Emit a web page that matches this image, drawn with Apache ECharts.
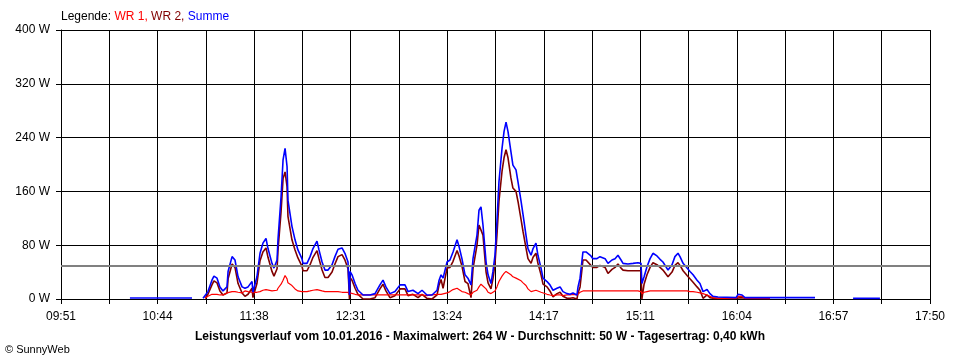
<!DOCTYPE html>
<html>
<head>
<meta charset="utf-8">
<script src="https://cdn.jsdelivr.net/npm/echarts@6/dist/echarts.min.js"></script>
<style>html,body{margin:0;padding:0;background:#fff}#c{width:960px;height:360px}</style>
</head>
<body>
<div id="c"></div>
<script>
// time axis: minutes since 09:51, total span 479 minutes in 18 grid steps
const xTickLabels = ['09:51','10:44','11:38','12:31','13:24','14:17','15:11','16:04','16:57','17:50'];
const spanMinutes = 479;
const gridSteps = 18;
const avgValue = 50;

const minutes = [38.0,72.2,72.8,78.3,79.4,81.0,83.2,84.3,86.0,87.6,89.3,91.5,92.1,94.3,95.9,97.6,99.8,101.4,103.1,105.3,105.8,108.0,109.7,111.3,113.0,114.1,116.3,117.4,119.1,119.6,121.3,122.4,123.5,124.6,125.1,127.3,129.0,130.6,132.8,133.4,135.6,137.3,138.9,141.1,142.2,143.9,145.5,147.2,149.4,151.0,152.7,154.9,156.5,158.2,159.0,159.3,160.4,162.1,163.7,166.5,170.3,173.1,175.8,177.5,179.1,181.3,184.1,186.9,189.6,191.3,194.0,196.8,199.0,201.7,204.5,207.3,208.4,209.5,210.6,212.8,214.4,216.1,218.3,219.4,221.0,222.7,224.3,226.0,227.1,229.3,230.4,231.5,232.6,234.3,235.4,237.0,238.1,239.2,240.3,241.4,243.1,244.2,245.3,246.4,248.0,249.1,250.8,251.9,253.6,254.7,256.3,257.4,259.1,260.2,261.8,262.9,264.6,265.7,267.9,269.5,271.2,273.4,275.1,276.7,278.9,280.6,282.2,284.4,285.0,286.1,287.2,287.7,289.4,290.5,292.1,293.2,295.4,297.1,298.2,299.9,301.5,303.7,305.4,307.0,308.7,309.8,312.5,315.3,318.0,319.7,320.2,321.4,323.0,324.7,326.3,328.5,330.2,331.8,334.6,336.8,338.4,340.1,341.2,342.9,345.1,346.7,348.4,350.6,352.2,353.9,356.1,357.7,359.4,362.1,372.1,373.2,375.4,377.0,390.8,391.9,415.6,416.2,436.6,451.4];

const summe = [1.5,1.5,null,1,2,11,28,34,31,18,12,18,41,63,58,33,18,16,18,26,10,33,68,83,90,75,53,46,58,88,152,207,224,197,147,108,88,73,60,53,53,63,75,86,73,55,43,43,51,63,74,76,68,55,6,41,36,23,13,6,6,8,21,28,18,8,11,21,21,11,13,8,13,6,6,13,28,36,31,55,58,70,88,78,60,36,31,21,60,95,132,137,110,55,36,23,41,65,115,174,224,249,263,249,219,199,192,174,145,125,95,75,65,75,83,65,46,31,26,21,13,16,18,11,8,7,9,6,18,31,58,70,70,68,64,60,60,63,65,60,53,58,60,65,58,53,52,53,54,53,23,33,48,60,68,64,59,55,43,51,63,68,63,53,46,41,36,28,23,11,14,8,4,3,2,7,6,2,2,2,2,null,1,1];

const wr1 = [null,null,null,null,1,4,7,7,7,6,6,9,11,11,11,10,9,12,11,10,8,10,11,13,14,13,12,12,13,16,22,28,35,30,24,20,15,12,11,11,11,12,13,14,13,12,11,11,11,11,11,10,10,10,6,9,8,7,6,6,6,6,6,6,6,6,6,6,6,6,6,6,6,5,6,7,7,7,7,9,11,14,16,14,11,10,8,6,10,13,18,22,20,15,10,8,7,12,18,26,34,38,41,39,36,33,31,29,27,24,20,15,11,13,13,12,10,8,7,6,5,6,6,5,6,6,7,6,7,10,12,12,12,12,12,12,12,12,12,12,12,12,12,12,12,12,12,12,12,11,8,10,11,12,12,12,12,12,12,12,12,12,12,12,12,11,11,10,9,8,6,4,2,1,1,4,4,1,1,null,null,null,null,null];

const wr2 = [null,null,null,null,1,7,21,27,24,12,6,9,30,52,47,23,9,4,7,16,2,23,57,70,76,62,41,34,45,72,130,179,189,167,123,88,73,61,49,42,42,51,62,72,60,43,32,32,40,52,63,66,58,45,0,32,28,16,7,0,0,2,15,22,12,2,5,15,15,5,7,2,7,1,0,6,21,29,16,46,47,56,72,64,49,26,23,2,45,80,110,112,95,40,24,15,30,52,95,145,190,210,222,210,180,165,160,145,118,100,76,60,53,62,68,53,36,22,18,12,3,8,10,4,1,1,2,0,9,18,45,58,58,56,50,47,47,50,52,47,38,44,47,52,46,43,42,42,42,42,0,22,36,47,54,51,47,43,33,40,50,54,50,42,35,30,25,18,13,1,6,2,1,1,1,3,2,1,0.5,null,null,null,null,null];

const toX = m => m / (spanMinutes / gridSteps);
const pts = arr => minutes.map((m, i) => [toX(m), arr[i]]);

const chart = echarts.init(document.getElementById('c'), null, {renderer: 'canvas'});
const font = 'Liberation Sans, Arial, sans-serif';
chart.setOption({
  animation: false,
  backgroundColor: '#ffffff',
  grid: {left: 61, right: 30, top: 30, bottom: 61},
  xAxis: {
    type: 'value', min: 0, max: gridSteps, interval: 1,
    axisLine: {show: true, onZero: false, lineStyle: {color: '#000', width: 1}},
    axisTick: {show: true, length: 5, lineStyle: {color: '#000'}},
    splitLine: {show: true, lineStyle: {color: '#000', width: 1}},
    axisLabel: {
      color: '#000', fontFamily: font, fontSize: 12, margin: 12,
      formatter: v => (Math.round(v) % 2 === 0 ? xTickLabels[Math.round(v) / 2] : '')
    }
  },
  yAxis: {
    type: 'value', min: 0, max: 400, interval: 80,
    axisLine: {show: true, lineStyle: {color: '#000', width: 1}},
    axisTick: {show: true, length: 5, lineStyle: {color: '#000'}},
    splitLine: {show: true, lineStyle: {color: '#000', width: 1}},
    axisLabel: {color: '#000', fontFamily: font, fontSize: 12, margin: 11, formatter: '{value} W'}
  },
  graphic: [
    {type: 'text', left: 61, top: 11, style: {
      text: '{k|Legende: }{a|WR 1, }{b|WR 2, }{c|Summe}',
      rich: {
        k: {fill: '#000', fontFamily: font, fontSize: 12},
        a: {fill: '#ff0000', fontFamily: font, fontSize: 12},
        b: {fill: '#800000', fontFamily: font, fontSize: 12},
        c: {fill: '#0000ff', fontFamily: font, fontSize: 12}
      }}},
    {type: 'text', left: 'center', top: 331, style: {
      text: 'Leistungsverlauf vom 10.01.2016 - Maximalwert: 264 W - Durchschnitt: 50 W - Tagesertrag: 0,40 kWh',
      fill: '#000', fontFamily: font, fontSize: 12, fontWeight: 'bold'}},
    {type: 'text', left: 5, top: 344, style: {
      text: '\u00A9 SunnyWeb', fill: '#000', fontFamily: font, fontSize: 11}}
  ],
  series: [
    {name: 'WR 2', type: 'line', data: pts(wr2), showSymbol: false, connectNulls: false,
     lineStyle: {color: '#800000', width: 1.6}, itemStyle: {color: '#800000'},
     markLine: {silent: true, symbol: 'none', label: {show: false},
       lineStyle: {color: '#808080', width: 2, type: 'solid'}, data: [{yAxis: avgValue}]}},
    {name: 'WR 1', type: 'line', data: pts(wr1), showSymbol: false, connectNulls: false,
     lineStyle: {color: '#ff0000', width: 1.2}, itemStyle: {color: '#ff0000'}},
    {name: 'Summe', type: 'line', data: pts(summe), showSymbol: false, connectNulls: false,
     lineStyle: {color: '#0000ff', width: 1.6}, itemStyle: {color: '#0000ff'}}
  ]
});
</script>
</body>
</html>
